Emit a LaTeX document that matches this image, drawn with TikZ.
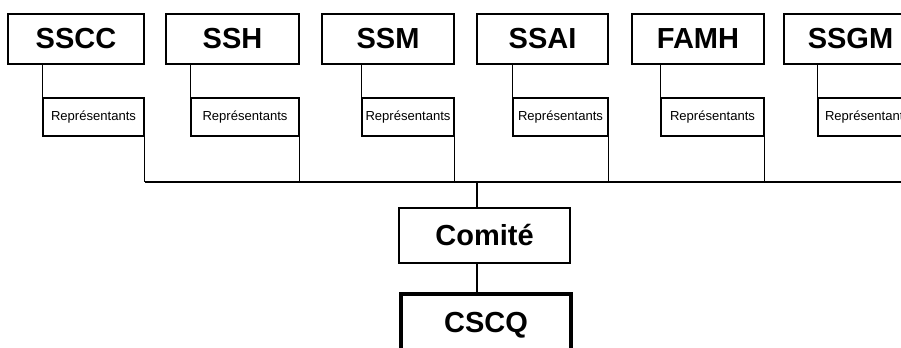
\documentclass[tikz,border=0pt]{standalone}
\usepackage{fontspec}
\setmainfont{Liberation Sans}

\tikzset{
  unitbox/.style={draw, rectangle, line width=1.5pt, inner sep=0pt,
    font=\fontsize{21.75}{26}\selectfont\bfseries},
  repbox/.style={draw, rectangle, line width=1.1pt, inner sep=0pt,
    font=\fontsize{9.8}{12}\selectfont},
  link/.style={line width=1pt},
}

\begin{document}
\begin{tikzpicture}[x=0.75pt, y=-0.75pt]
  \useasboundingbox (0, 0) rectangle (901, 347);
  \clip (0, 0) rectangle (901, 347);

  \coordinate (bushub) at (477, 182);
  \coordinate (busend) at (901, 182);

  \foreach \n/\lbl/\l/\r/\s in {1/SSCC/8/144/43, 2/SSH/166/299/191, 3/SSM/322/454/362,
      4/SSAI/477/608/513, 5/FAMH/632/764/661, 6/SSGM/784/917/818} {
    \node[unitbox, minimum width={(\r-\l)*0.75pt}, minimum height=37.5pt]
      (u\n) at ({(\l+\r)/2}, 39) {\lbl};
    \node[repbox, minimum width={(\r-\s)*0.75pt}, minimum height=28.5pt]
      (r\n) at ({(\s+\r)/2}, 117) {Représentants};
    \draw[link] (u\n.south -| r\n.north west) -- (r\n.north west);
    \draw[link] (r\n.south east) -- (r\n.south east |- bushub);
  }

  \draw[line width=1.5pt] (r1.south east |- bushub) -- (busend);

  \node[unitbox, line width=2pt, minimum width=128.25pt, minimum height=41.25pt]
    (comite) at (484.5, 235.5) {Comité};
  \node[unitbox, line width=3pt, minimum width=127.5pt, minimum height=46.5pt]
    (cscq) at (486, 325) {CSCQ};

  \draw[link] (bushub) -- (bushub |- comite.north);
  \draw[link] (comite.south -| bushub) -- (cscq.north -| bushub);
\end{tikzpicture}
\end{document}
